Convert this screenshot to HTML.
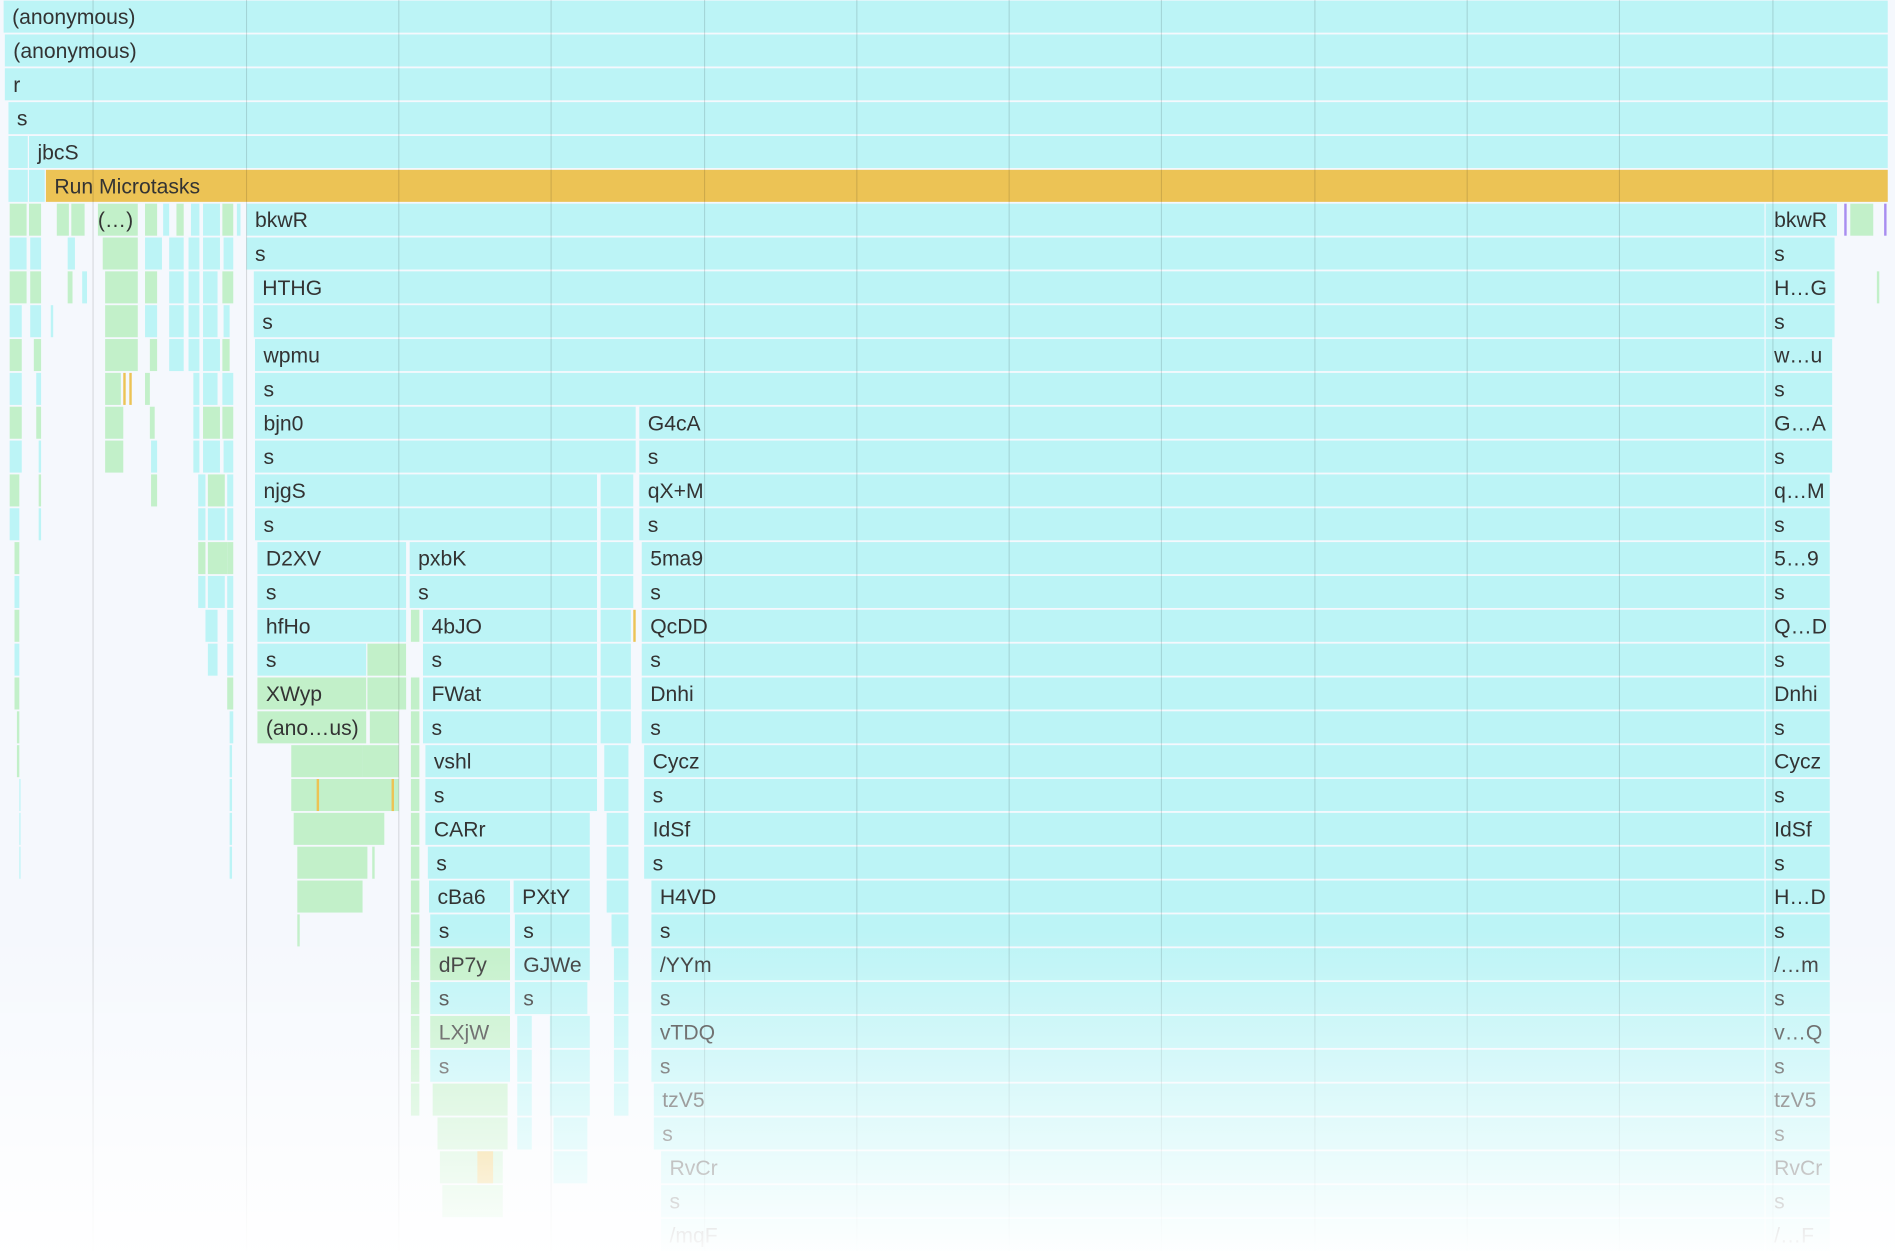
<!DOCTYPE html>
<html><head><meta charset="utf-8"><style>
html,body{margin:0;padding:0;background:#f5f8fd;}
svg{display:block;}
text{font-family:"Liberation Sans",sans-serif;font-size:17.5px;fill:#333;}
</style></head><body>
<svg id="chart" width="1895" height="1251" viewBox="0 0 1568 1035" preserveAspectRatio="none" xmlns="http://www.w3.org/2000/svg">
<defs><linearGradient id="fade" x1="0" y1="0" x2="0" y2="1">
<stop offset="0" stop-color="#ffffff" stop-opacity="0"/>
<stop offset="1" stop-color="#ffffff" stop-opacity="0.97"/></linearGradient></defs>
<rect x="0" y="0" width="1568" height="1035" fill="#f5f8fd"/>
<g id="frames"></g>
<g id="grid"></g>
<rect x="0" y="770" width="1568" height="265" fill="url(#fade)"/>
</svg>
<script>
// frames: [row, start, end, label, kind]  (c=cyan, g=green, o=orange, p=purple)
const mainFrames = [
[0,3,1562,"(anonymous)","c"],[1,4,1562,"(anonymous)","c"],[2,4,1562,"r","c"],[3,7,1562,"s","c"],
[4,7,23,"","c"],[4,24,1562,"jbcS","c"],[5,7,23,"","c"],[5,24,37,"","c"],[5,38,1562,"Run Microtasks","o"],
[6,204,1460,"bkwR","c"],[6,1461,1520,"bkwR","c"],
[7,204,1460,"s","c"],[7,1461,1518,"s","c"],
[8,210,1460,"HTHG","c"],[8,1461,1518,"H…G","c"],
[9,210,1460,"s","c"],[9,1461,1518,"s","c"],
[10,211,1460,"wpmu","c"],[10,1461,1516,"w…u","c"],
[11,211,1460,"s","c"],[11,1461,1516,"s","c"],
[12,211,526,"bjn0","c"],[12,529,1460,"G4cA","c"],[12,1461,1516,"G…A","c"],
[13,211,526,"s","c"],[13,529,1460,"s","c"],[13,1461,1516,"s","c"],
[14,211,494,"njgS","c"],[14,497,524,"","c"],[14,529,1460,"qX+M","c"],[14,1461,1514,"q…M","c"],
[15,211,494,"s","c"],[15,497,524,"","c"],[15,529,1460,"s","c"],[15,1461,1514,"s","c"],
[16,213,336,"D2XV","c"],[16,339,494,"pxbK","c"],[16,497,524,"","c"],[16,531,1460,"5ma9","c"],[16,1461,1514,"5…9","c"],
[17,213,336,"s","c"],[17,339,494,"s","c"],[17,497,524,"","c"],[17,531,1460,"s","c"],[17,1461,1514,"s","c"],
[18,213,336,"hfHo","c"],[18,340,347,"","g"],[18,350,494,"4bJO","c"],[18,497,522,"","c"],[18,524,526,"","o"],[18,531,1460,"QcDD","c"],[18,1461,1514,"Q…D","c"],
[19,213,303,"s","c"],[19,304,336,"","g"],[19,350,494,"s","c"],[19,497,522,"","c"],[19,531,1460,"s","c"],[19,1461,1514,"s","c"],
[20,213,303,"XWyp","g"],[20,304,336,"","g"],[20,350,494,"FWat","c"],[20,497,522,"","c"],[20,531,1460,"Dnhi","c"],[20,1461,1514,"Dnhi","c"],
[21,213,303,"(ano…us)","g"],[21,350,494,"s","c"],[21,497,522,"","c"],[21,531,1460,"s","c"],[21,1461,1514,"s","c"],
[22,241,300,"","g"],[22,352,494,"vshl","c"],[22,500,520,"","c"],[22,533,1460,"Cycz","c"],[22,1461,1514,"Cycz","c"],
[23,352,494,"s","c"],[23,500,520,"","c"],[23,533,1460,"s","c"],[23,1461,1514,"s","c"],
[24,352,488,"CARr","c"],[24,502,520,"","c"],[24,533,1460,"IdSf","c"],[24,1461,1514,"IdSf","c"],
[25,354,488,"s","c"],[25,502,520,"","c"],[25,533,1460,"s","c"],[25,1461,1514,"s","c"],
[26,355,422,"cBa6","c"],[26,425,488,"PXtY","c"],[26,502,520,"","c"],[26,539,1460,"H4VD","c"],[26,1461,1514,"H…D","c"],
[27,356,422,"s","c"],[27,426,488,"s","c"],[27,506,520,"","c"],[27,539,1460,"s","c"],[27,1461,1514,"s","c"],
[28,356,422,"dP7y","g"],[28,426,488,"GJWe","c"],[28,508,520,"","c"],[28,539,1460,"/YYm","c"],[28,1461,1514,"/…m","c"],
[29,356,422,"s","c"],[29,426,486,"s","c"],[29,508,520,"","c"],[29,539,1460,"s","c"],[29,1461,1514,"s","c"],
[30,356,422,"LXjW","g"],[30,428,440,"","c"],[30,455,488,"","c"],[30,508,520,"","c"],[30,539,1460,"vTDQ","c"],[30,1461,1514,"v…Q","c"],
[31,356,422,"s","c"],[31,428,440,"","c"],[31,455,488,"","c"],[31,508,520,"","c"],[31,539,1460,"s","c"],[31,1461,1514,"s","c"],
[32,358,420,"","g"],[32,428,440,"","c"],[32,455,488,"","c"],[32,508,520,"","c"],[32,541,1460,"tzV5","c"],[32,1461,1514,"tzV5","c"],
[33,362,420,"","g"],[33,428,440,"","c"],[33,458,486,"","c"],[33,541,1460,"s","c"],[33,1461,1514,"s","c"],
[34,364,416,"","g"],[34,395,408,"","o"],[34,458,486,"","c"],[34,547,1460,"RvCr","c"],[34,1461,1514,"RvCr","c"],
[35,366,416,"","g"],[35,547,1460,"s","c"],[35,1461,1514,"s","c"],
[36,547,1460,"/mqF","c"],[36,1461,1514,"/…F","c"]
];
// left column thin frames: [row, start, end, kind]
const leftFrames = [
[6,8,22,"g"],[6,24,34,"g"],[6,47,57,"g"],[6,59,70,"g"],[6,81,114,"g"],[6,120,130,"g"],[6,135,140,"c"],[6,146,152,"g"],[6,158,165,"c"],[6,168,182,"c"],[6,184,193,"g"],[6,196,199,"c"],[6,1526,1528,"p"],[6,1531,1550,"g"],[6,1559,1561,"p"],
[7,8,22,"c"],[7,25,34,"c"],[7,56,62,"c"],[7,85,114,"g"],[7,120,134,"c"],[7,140,152,"c"],[7,156,165,"c"],[7,168,182,"c"],[7,185,193,"c"],
[8,8,22,"g"],[8,25,34,"g"],[8,56,60,"g"],[8,68,72,"c"],[8,87,114,"g"],[8,120,130,"g"],[8,140,152,"c"],[8,156,165,"c"],[8,168,180,"c"],[8,184,193,"g"],[8,1553,1555,"g"],
[9,8,18,"c"],[9,25,34,"c"],[9,42,44,"c"],[9,87,114,"g"],[9,120,130,"c"],[9,140,152,"c"],[9,156,165,"c"],[9,168,180,"c"],[9,185,190,"c"],
[10,8,18,"g"],[10,28,34,"g"],[10,87,114,"g"],[10,124,130,"g"],[10,140,152,"c"],[10,156,165,"c"],[10,168,182,"c"],[10,184,190,"g"],
[11,8,18,"c"],[11,30,34,"c"],[11,87,100,"g"],[11,102,104,"o"],[11,107,109,"o"],[11,120,124,"g"],[11,160,165,"c"],[11,168,180,"c"],[11,184,193,"c"],
[12,8,18,"g"],[12,30,34,"g"],[12,87,102,"g"],[12,124,128,"g"],[12,160,165,"c"],[12,168,182,"g"],[12,184,193,"g"],
[13,8,18,"c"],[13,32,34,"c"],[13,87,102,"g"],[13,125,130,"c"],[13,160,165,"c"],[13,168,182,"c"],[13,185,193,"c"],
[14,8,16,"g"],[14,32,34,"g"],[14,125,130,"g"],[14,164,170,"c"],[14,172,186,"g"],[14,188,193,"c"],
[15,8,16,"c"],[15,32,34,"c"],[15,164,170,"c"],[15,172,186,"c"],[15,188,193,"c"],
[16,12,16,"g"],[16,164,170,"g"],[16,172,188,"g"],[16,188,193,"g"],
[17,12,16,"c"],[17,164,170,"c"],[17,172,186,"c"],[17,188,193,"c"],
[18,12,16,"g"],[18,170,180,"c"],[18,188,193,"c"],
[19,12,16,"c"],[19,172,180,"c"],[19,188,193,"c"],
[20,12,16,"g"],[20,188,193,"g"],[20,306,336,"g"],[20,340,347,"g"],
[21,14,16,"g"],[21,190,193,"c"],[21,306,330,"g"],[21,340,347,"g"],
[22,14,16,"g"],[22,190,192,"c"],[22,300,330,"g"],[22,340,347,"g"],
[23,16,17,"c"],[23,190,192,"c"],[23,241,330,"g"],[23,262,264,"o"],[23,324,326,"o"],[23,340,347,"g"],
[24,16,17,"c"],[24,190,192,"c"],[24,243,318,"g"],[24,340,347,"g"],
[25,16,17,"c"],[25,190,192,"c"],[25,246,304,"g"],[25,308,310,"g"],[25,340,347,"g"],
[26,246,300,"g"],[26,340,347,"g"],
[27,246,248,"g"],[27,340,347,"g"],
[28,340,347,"g"],[29,340,347,"g"],[30,340,347,"g"],[31,340,347,"g"],[32,340,347,"g"]
];
const colors = {c:"#bcf4f6", g:"#c2f0c9", o:"#ecc355", p:"#a88df0"};
const gridLines = [77,204,330,456,583,709,835,961,1088,1214,1340,1467];
const ROW = 28, BAR = 26.5;
const NS = "http://www.w3.org/2000/svg";
const yOf = r => r*ROW + 0.5;
const framesG = document.getElementById('frames');
function addRect(r,x0,x1,k){
  const el=document.createElementNS(NS,'rect');
  el.setAttribute('x',x0); el.setAttribute('y',yOf(r));
  el.setAttribute('width',Math.max(0.8,x1-x0)); el.setAttribute('height',BAR);
  el.setAttribute('fill',colors[k]);
  
  
  framesG.appendChild(el);
}
leftFrames.forEach(f=>addRect(f[0],f[1],f[2],f[3]));
mainFrames.forEach(f=>{
  addRect(f[0],f[1],f[2],f[4]);
  if(f[3]){
    const t=document.createElementNS(NS,'text');
    t.setAttribute('x',f[1]+7); t.setAttribute('y',yOf(f[0])+19.5);
    t.textContent=f[3];
    
    
    framesG.appendChild(t);
  }
});
const lbl=document.createElementNS(NS,'text');
lbl.setAttribute('x',81); lbl.setAttribute('y',yOf(6)+19.5); lbl.textContent="(…)";


framesG.appendChild(lbl);
const gridG=document.getElementById('grid');
gridLines.forEach(x=>{
  const l=document.createElementNS(NS,'line');
  l.setAttribute('x1',x); l.setAttribute('x2',x); l.setAttribute('y1',0); l.setAttribute('y2',1035);
  l.setAttribute('stroke','rgba(0,0,0,0.13)'); l.setAttribute('stroke-width','0.9');
  
  
  gridG.appendChild(l);
});
</script>
</body></html>
